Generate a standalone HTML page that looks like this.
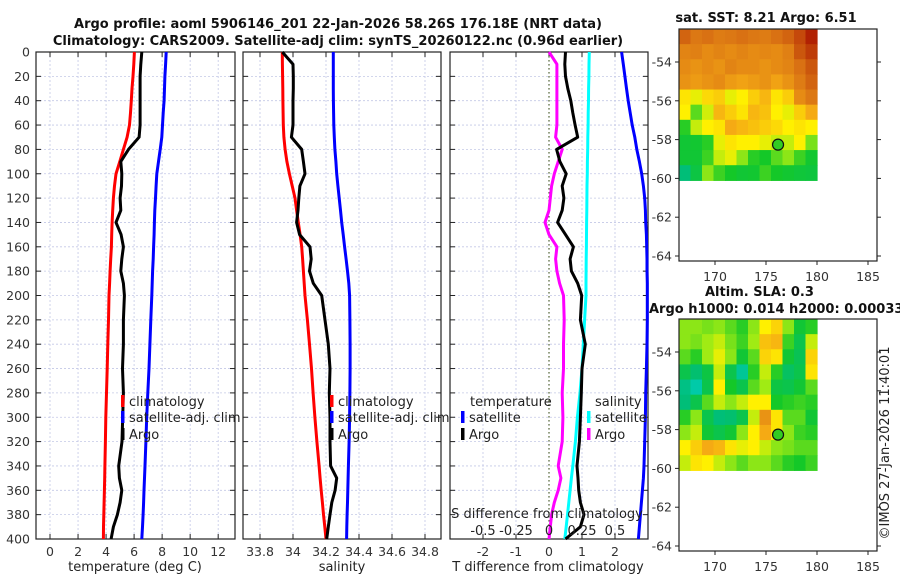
<!DOCTYPE html>
<html><head><meta charset="utf-8">
<style>
html,body{margin:0;padding:0;background:#fff;}
svg{display:block;font-family:"DejaVu Sans","Liberation Sans",sans-serif;}
.tk{font-size:12.5px;fill:#333;}
.tt{font-size:13px;font-weight:bold;fill:#111;}
.lg{font-size:13px;fill:#222;}
</style></head>
<body>
<svg id="fig" width="900" height="580" viewBox="0 0 900 580"></svg>
<script>
// ---- data ----
const depths = [0,10,20,30,40,50,60,70,80,90,100,110,120,130,140,150,160,170,180,190,200,220,240,260,280,300,320,340,350,360,370,380,390,400];
const tClim  = [6.02,5.98,5.92,5.85,5.8,5.74,5.67,5.5,5.24,4.98,4.71,4.6,4.52,4.47,4.43,4.4,4.38,4.33,4.29,4.25,4.21,4.17,4.12,4.08,4.03,3.98,3.95,3.92,3.9,3.88,3.86,3.84,3.82,3.81];
const tArgo  = [6.55,6.48,6.43,6.43,6.43,6.43,6.43,6.36,5.6,5.05,5.12,5.1,5.0,5.05,4.71,5.07,5.24,5.12,5.05,5.24,5.31,5.24,5.24,5.17,5.24,5.19,5.14,4.9,4.95,5.12,5.0,4.81,4.52,4.36];
const tSat   = [8.29,8.25,8.2,8.17,8.14,8.08,8.03,7.98,7.86,7.74,7.62,7.57,7.53,7.48,7.45,7.43,7.39,7.36,7.32,7.29,7.26,7.19,7.13,7.06,6.98,6.9,6.84,6.78,6.74,6.71,6.68,6.64,6.6,6.55];
const sClim  = [33.935,33.936,33.937,33.938,33.939,33.94,33.941,33.945,33.952,33.963,33.978,33.995,34.012,34.022,34.032,34.043,34.053,34.058,34.063,34.068,34.073,34.087,34.1,34.112,34.122,34.133,34.145,34.158,34.164,34.171,34.178,34.185,34.193,34.2];
const sArgo  = [33.935,34.0,34.002,34.002,34.0,34.0,34.0,33.99,34.053,34.063,34.073,34.042,34.035,34.03,34.022,34.04,34.103,34.11,34.1,34.123,34.174,34.194,34.214,34.224,34.22,34.224,34.224,34.228,34.265,34.255,34.235,34.224,34.214,34.204];
const sSat   = [34.244,34.244,34.244,34.244,34.245,34.246,34.247,34.25,34.254,34.26,34.265,34.272,34.28,34.288,34.295,34.304,34.313,34.322,34.33,34.338,34.343,34.345,34.346,34.346,34.345,34.343,34.34,34.336,34.334,34.332,34.33,34.328,34.326,34.325];
const dTSat  = [2.2,2.25,2.3,2.35,2.4,2.46,2.52,2.6,2.66,2.74,2.81,2.86,2.9,2.92,2.93,2.95,2.96,2.97,2.97,2.98,2.98,2.98,2.97,2.95,2.93,2.92,2.9,2.88,2.86,2.83,2.8,2.77,2.74,2.71];
const dTArgo = [0.5,0.48,0.5,0.57,0.66,0.72,0.79,0.87,0.23,0.33,0.52,0.4,0.45,0.4,0.26,0.5,0.74,0.64,0.68,0.87,0.99,0.95,1.1,1.0,0.98,0.95,0.92,0.85,0.88,0.9,0.95,1.06,0.95,0.5];
const dSSat  = [0.305,0.303,0.302,0.3,0.299,0.297,0.296,0.294,0.293,0.291,0.29,0.288,0.287,0.286,0.285,0.284,0.283,0.282,0.281,0.28,0.28,0.27,0.26,0.25,0.235,0.215,0.2,0.18,0.17,0.16,0.15,0.14,0.13,0.12];
const dSArgo = [0.0,0.06,0.06,0.06,0.06,0.06,0.06,0.05,0.1,0.07,0.04,0.02,0.01,0.0,-0.03,0.0,0.06,0.05,0.06,0.08,0.11,0.115,0.11,0.11,0.1,0.105,0.1,0.07,0.09,0.07,0.04,0.02,0.01,0.0];
const depthTicks = [0,20,40,60,80,100,120,140,160,180,200,220,240,260,280,300,320,340,360,380,400];
const tTicks = [0,2,4,6,8,10,12];
const sTicks = [33.8,34,34.2,34.4,34.6,34.8];
const dTTicks = [-2,-1,0,1,2];
const dSTicks = [-0.5,-0.25,0,0.25,0.5];
const dSTickLabels = ["-0.5","-0.25","0","0.25","0.5"];
const sstGrid = [
 [0.88,0.85,0.86,0.84,0.85,0.86,0.85,0.84,0.86,0.88,0.92,0.98],
 [0.82,0.83,0.8,0.82,0.8,0.82,0.8,0.81,0.8,0.83,0.9,0.94],
 [0.8,0.78,0.8,0.78,0.82,0.8,0.8,0.78,0.8,0.82,0.86,0.9],
 [0.78,0.76,0.78,0.8,0.76,0.74,0.76,0.78,0.74,0.78,0.84,0.88],
 [0.62,0.58,0.64,0.66,0.58,0.6,0.66,0.7,0.62,0.66,0.8,0.85],
 [0.6,0.45,0.56,0.7,0.66,0.62,0.7,0.68,0.6,0.58,0.66,0.72],
 [0.4,0.55,0.6,0.62,0.72,0.7,0.68,0.66,0.64,0.6,0.62,0.6],
 [0.35,0.36,0.4,0.58,0.62,0.6,0.6,0.58,0.55,0.55,0.6,0.48],
 [0.35,0.35,0.42,0.55,0.58,0.5,0.4,0.38,0.45,0.5,0.42,0.36],
 [0.2,0.32,0.5,0.42,0.38,0.35,0.36,0.42,0.38,0.36,0.34,0.33]];
const slaGrid = [
 [0.5,0.5,0.48,0.5,0.45,0.4,0.5,0.6,0.65,0.5,0.35,0.4],
 [0.5,0.48,0.52,0.55,0.48,0.42,0.52,0.68,0.7,0.42,0.3,0.55],
 [0.45,0.4,0.52,0.58,0.5,0.35,0.45,0.65,0.62,0.35,0.28,0.65],
 [0.3,0.22,0.32,0.55,0.3,0.15,0.4,0.55,0.4,0.25,0.3,0.62],
 [0.18,0.12,0.3,0.6,0.38,0.3,0.45,0.52,0.32,0.3,0.35,0.45],
 [0.2,0.3,0.45,0.55,0.5,0.55,0.6,0.6,0.38,0.4,0.42,0.4],
 [0.4,0.5,0.3,0.2,0.22,0.3,0.55,0.78,0.62,0.45,0.45,0.35],
 [0.5,0.55,0.35,0.3,0.35,0.5,0.6,0.72,0.62,0.5,0.42,0.4],
 [0.6,0.66,0.72,0.7,0.62,0.58,0.6,0.55,0.5,0.48,0.45,0.45],
 [0.55,0.62,0.6,0.55,0.5,0.45,0.5,0.5,0.45,0.4,0.38,0.42]];
const mapLatTicks = [-54,-56,-58,-60,-62,-64];
const mapLonTicks = [170,175,180,185];
const argoLon = 176.18, argoLat = -58.26;

// ---- helpers ----
const NS="http://www.w3.org/2000/svg";
const svg=document.getElementById('fig');
function el(tag,attrs,parent){const e=document.createElementNS(NS,tag);for(const k in attrs)e.setAttribute(k,attrs[k]);(parent||svg).appendChild(e);return e;}
function txt(x,y,s,cls,anchor,parent){const t=el('text',{x:x,y:y,class:cls,'text-anchor':anchor||'middle'},parent);t.textContent=s;return t;}
const Y0=52,Y1=539;
function yD(d){return Y0+(Y1-Y0)*d/400;}
function lin(d0,d1,r0,r1){return v=>r0+(r1-r0)*(v-d0)/(d1-d0);}

function panel(name,x0,x1,xs,ticks,tickLabels,showTickLabels){
  const g=el('g',{});  
  ticks.forEach(t=>{const x=xs(t);el('line',{x1:x,x2:x,y1:Y0,y2:Y1,stroke:'#c3c8e6','stroke-width':0.8,'stroke-dasharray':'2,2'},g);
    el('line',{x1:x,x2:x,y1:Y1,y2:Y1-5,stroke:'#222'},g);el('line',{x1:x,x2:x,y1:Y0,y2:Y0+5,stroke:'#222'},g);
    if(showTickLabels) txt(x,Y1+17,tickLabels?tickLabels[ticks.indexOf(t)]:String(t),'tk','middle',g);});
  depthTicks.forEach(d=>{const y=yD(d);el('line',{x1:x0,x2:x1,y1:y,y2:y,stroke:'#c3c8e6','stroke-width':0.8,'stroke-dasharray':'2,2'},g);
    el('line',{x1:x0,x2:x0+5,y1:y,y2:y,stroke:'#222'},g);el('line',{x1:x1-5,x2:x1,y1:y,y2:y,stroke:'#222'},g);});
  el('rect',{x:x0,y:Y0,width:x1-x0,height:Y1-Y0,fill:'none',stroke:'#222','stroke-width':1.2},g);
  return g;
}
function line(g,name,vals,xs,color){
  const pts=vals.map((v,i)=>xs(v).toFixed(1)+','+yD(depths[i]).toFixed(1)).join(' ');
  const p=el('polyline',{points:pts,fill:'none',stroke:color,'stroke-width':3,'stroke-linejoin':'round'},g);
   
}
function legendEntry(g,name,x,y,color,label){
  const e=el('g',{},g);  
  el('rect',{x:x-2,y:y-6,width:3.5,height:12,fill:color},e);
  txt(x+6,y+5,label,'lg','start',e);
}

txt(338,28,'Argo profile: aoml 5906146_201 22-Jan-2026 58.26S 176.18E (NRT data)','tt');
txt(338,45,'Climatology: CARS2009. Satellite-adj clim: synTS_20260122.nc (0.96d earlier)','tt');

const yl=el('g',{});  
depthTicks.forEach(d=>txt(30,yD(d)+4.5,String(d),'tk','end',yl));

const xT=lin(-1,13.2,36,235);
const p1=panel('temperature-panel',36,235,xT,tTicks,null,true);
line(p1,'temperature-climatology',tClim,xT,'#ff0000');
line(p1,'temperature-satellite-adj',tSat,xT,'#0000ff');
line(p1,'temperature-argo',tArgo,xT,'#000000');
legendEntry(p1,'legend-climatology',123,401,'#ff0000','climatology');
legendEntry(p1,'legend-satellite-adj',123,417,'#0000ff','satellite-adj. clim');
legendEntry(p1,'legend-argo',123,434,'#000000','Argo');
txt(135,571,'temperature (deg C)','lg');

const xS=lin(33.8,34.8,260,425);
const p2=panel('salinity-panel',243,441,xS,sTicks,null,true);
line(p2,'salinity-climatology',sClim,xS,'#ff0000');
line(p2,'salinity-satellite-adj',sSat,xS,'#0000ff');
line(p2,'salinity-argo',sArgo,xS,'#000000');
legendEntry(p2,'legend-climatology-s',332,401,'#ff0000','climatology');
legendEntry(p2,'legend-satellite-adj-s',332,417,'#0000ff','satellite-adj. clim');
legendEntry(p2,'legend-argo-s',332,434,'#000000','Argo');
txt(342,571,'salinity','lg');

const xdT=lin(-3,3,450,648);
const xdS=lin(-0.75,0.75,450,648);
const p3=panel('difference-panel',450,648,xdT,dTTicks,null,true);
el('line',{x1:xdT(0),x2:xdT(0),y1:Y0,y2:Y1,stroke:'#556633','stroke-width':1.2,'stroke-dasharray':'1.5,2.5'},p3);
line(p3,'temp-diff-satellite',dTSat,xdT,'#0000ff');
line(p3,'sal-diff-satellite',dSSat,xdS,'#00ffff');
line(p3,'sal-diff-argo',dSArgo,xdS,'#ff00ff');
line(p3,'temp-diff-argo',dTArgo,xdT,'#000000');
txt(470,406,'temperature','lg','start',p3);
legendEntry(p3,'legend-temp-satellite',463,417,'#0000ff','satellite');
legendEntry(p3,'legend-temp-argo',463,434,'#000000','Argo');
txt(595,406,'salinity','lg','start',p3);
legendEntry(p3,'legend-sal-satellite',589,417,'#00ffff','satellite');
legendEntry(p3,'legend-sal-argo',589,434,'#ff00ff','Argo');
txt(547,518,'S difference from climatology','lg');
dSTicks.forEach((v,i)=>txt(xdS(v),535,dSTickLabels[i],'lg','middle',p3));
txt(548,571,'T difference from climatology','lg');

function cmap(v){
  const stops=[[0,[0,220,240]],[0.2,[0,190,120]],[0.38,[20,200,40]],[0.52,[160,235,20]],[0.6,[255,240,0]],[0.72,[245,170,20]],[0.85,[220,120,20]],[1,[170,20,0]]];
  for(let i=1;i<stops.length;i++){if(v<=stops[i][0]){const a=stops[i-1],b=stops[i],f=(v-a[0])/(b[0]-a[0]);
    return 'rgb('+a[1].map((c,k)=>Math.round(c+(b[1][k]-c)*f)).join(',')+')';}}
  return 'rgb(170,20,0)';
}
function drawMap(name,top,grid){
  const g=el('g',{});  
  const bx0=679,bx1=877,by0=top,by1=top+232;
  const lonX=lin(170,180,715,817);
  const latY=lin(-54,-64,top+33,top+227);
  const imgX0=679,imgX1=lonX(180),imgY0=top,imgY1=latY(-60.1);
  const rows=grid.length,cols=grid[0].length,cw=(imgX1-imgX0)/cols,ch=(imgY1-imgY0)/rows;
  grid.forEach((r,i)=>r.forEach((v,j)=>{const c=el('rect',{x:imgX0+j*cw,y:imgY0+i*ch,width:cw+0.6,height:ch+0.6,fill:cmap(v)},g);
     }));
  const dot=el('circle',{cx:lonX(argoLon),cy:latY(argoLat),r:5.5,fill:'#33cc22',stroke:'#111','stroke-width':1.2},g);
   
  el('rect',{x:bx0,y:by0,width:bx1-bx0,height:by1-by0,fill:'none',stroke:'#222','stroke-width':1.2},g);
  mapLatTicks.forEach(l=>{const y=latY(l);el('line',{x1:bx0-4,x2:bx0,y1:y,y2:y,stroke:'#222'},g);el('line',{x1:bx1,x2:bx1+4,y1:y,y2:y,stroke:'#222'},g);
    txt(672,y+4.5,String(l),'tk','end',g);});
  mapLonTicks.forEach(l=>{const x=lonX(l);el('line',{x1:x,x2:x,y1:by1,y2:by1+4,stroke:'#222'},g);
    txt(x,by1+20,String(l),'tk','middle',g);});
}
txt(766,22,'sat. SST: 8.21 Argo: 6.51','tt');
drawMap('sst-map',29,sstGrid);
txt(705,296,'Altim. SLA: 0.3','tt','start');
txt(649,313,'Argo h1000: 0.014 h2000: 0.00033','tt','start');
drawMap('sla-map',319,slaGrid);
const cr=txt(0,0,'©IMOS 27-Jan-2026 11:40:01','lg','middle');
cr.setAttribute('transform','translate(889,443) rotate(-90)');

</script>
</body></html>
